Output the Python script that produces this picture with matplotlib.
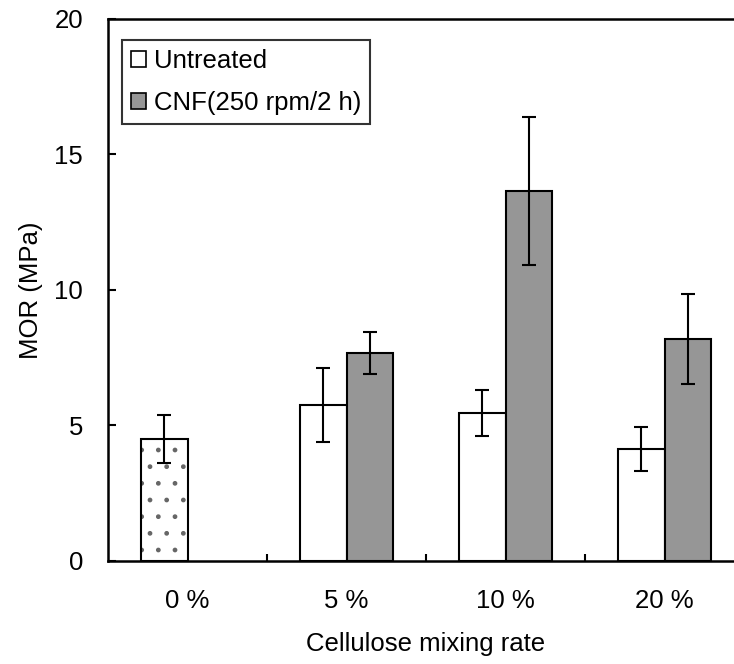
import numpy as np
import matplotlib
matplotlib.use('Agg')
import matplotlib.pyplot as plt
from matplotlib.patches import Patch

plt.rcParams['font.family'] = ['Liberation Sans', 'DejaVu Sans']

# data (MPa)
categories = ['0 %', '5 %', '10 %', '20 %']
control = 4.50          # 0 % board (no cellulose)
control_err = 0.90
untreated = [5.76, 5.46, 4.13]      # 5, 10, 20 %
untreated_err = [1.37, 0.84, 0.81]
cnf = [7.68, 13.65, 8.19]
cnf_err = [0.78, 2.73, 1.66]

grey = '#969696'
fs = 18.5
w = 0.29
x = np.arange(len(categories))
xm = x[1:]

fig = plt.figure(figsize=(7.34, 6.64), dpi=100)
ax = fig.add_axes([108 / 734, 103 / 664, 636 / 734, 542 / 664])

# 0 % bar: dotted fill (hatch drawn in grey, outline in black on top)
ax.bar(x[0] - w / 2, control, w, color='white', edgecolor='#666666',
       hatch='.', linewidth=0, zorder=2)
ax.bar(x[0] - w / 2, control, w, facecolor='none', edgecolor='black',
       linewidth=1.5, zorder=3)

ax.bar(xm - w / 2, untreated, w, color='white', edgecolor='black',
       linewidth=1.5, zorder=3)
ax.bar(xm + w / 2, cnf, w, color=grey, edgecolor='black',
       linewidth=1.5, zorder=3)

ekw = dict(fmt='none', ecolor='black', elinewidth=1.5, capsize=5,
           capthick=1.5, zorder=4)
ax.errorbar([x[0] - w / 2], [control], yerr=[control_err], **ekw)
ax.errorbar(xm - w / 2, untreated, yerr=untreated_err, **ekw)
ax.errorbar(xm + w / 2, cnf, yerr=cnf_err, **ekw)

ax.set_xlim(-0.5, 3.5)
ax.set_ylim(0, 20)
ax.set_yticks([0, 5, 10, 15, 20])
ax.set_xticks(x)
ax.set_xticklabels(categories)
ax.set_xticks(np.arange(0.5, 3.5, 1.0), minor=True)

ax.tick_params(axis='y', direction='in', length=6, width=1.5,
               labelsize=fs, pad=18)
ax.tick_params(axis='x', which='major', length=0, labelsize=fs, pad=20)
ax.tick_params(axis='x', which='minor', direction='in', length=5, width=1.5)

for s in ['left', 'bottom', 'top']:
    ax.spines[s].set_linewidth(1.8)
ax.spines['right'].set_visible(False)

ax.set_xlabel('Cellulose mixing rate', fontsize=fs, labelpad=14)
ax.set_ylabel('MOR (MPa)', fontsize=fs, labelpad=8)

handles = [Patch(facecolor='white', edgecolor='black', linewidth=1.2),
           Patch(facecolor=grey, edgecolor='black', linewidth=1.2)]
leg = ax.legend(handles, ['Untreated', 'CNF(250 rpm/2 h)'],
                loc='upper left', bbox_to_anchor=(0.022, 0.961),
                borderaxespad=0, fontsize=fs, frameon=True, fancybox=False,
                handlelength=0.6, handleheight=0.6, handletextpad=0.3,
                labelspacing=0.7, borderpad=0.35)
leg.get_frame().set_edgecolor('black')
leg.get_frame().set_linewidth(1.5)

fig.savefig('out.png', dpi=100)
